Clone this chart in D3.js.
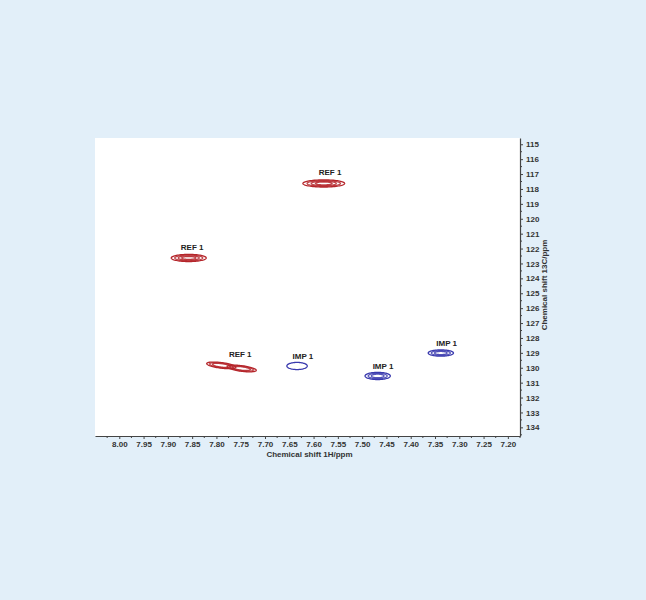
<!DOCTYPE html>
<html><head><meta charset="utf-8">
<script src="https://cdn.jsdelivr.net/npm/d3@7"></script>
<style>
html,body{margin:0;padding:0;background:#e2eff9;}
svg{display:block;}
</style></head>
<body>
<script>
// ---- data ----
const peakGroup = ["REF","REF","REF","REF","IMP","IMP","IMP"];
const peakH     = [7.857, 7.579, 7.790, 7.748, 7.634, 7.468, 7.338];   // 1H ppm
const peakC     = [122.63, 117.63, 129.84, 130.05, 129.88, 130.55, 129.01]; // 13C ppm
const peakRx    = [0.036, 0.043, 0.030, 0.030, 0.021, 0.026, 0.026];
const peakRy    = [0.24, 0.24, 0.19, 0.19, 0.24, 0.24, 0.21];
const peakSlope = [0, 0, -4, -4, 0, 0, 0];
const peakLevels= [[1,0.8,0.6,0.4],[1,0.8,0.6,0.4],[1,0.8,0.6],[1,0.8,0.6],[1],[1,0.75,0.5],[1,0.75,0.5]];

const labelText = ["REF 1","REF 1","REF 1","IMP 1","IMP 1","IMP 1"];
const labelH    = [7.850, 7.566, 7.751, 7.622, 7.457, 7.326];
const labelC    = [121.96, 116.93, 129.14, 129.28, 129.95, 128.41];

const xTicks = [8.00,7.95,7.90,7.85,7.80,7.75,7.70,7.65,7.60,7.55,7.50,7.45,7.40,7.35,7.30,7.25,7.20];
const yTicks = [115,116,117,118,119,120,121,122,123,124,125,126,127,128,129,130,131,132,133,134];
const xTitle = "Chemical shift 1H/ppm";
const yTitle = "Chemical shift 13C/ppm";

// ---- layout ----
const W = 646, H = 600;
const L = 95, R = 520, T = 138, B = 436;
const colors = {REF: "#b5262b", IMP: "#3a3aae"};
const font = "bold 8px 'Liberation Sans', Arial, sans-serif";

const svg = d3.select("body").append("svg").attr("width", W).attr("height", H);
svg.append("rect").attr("width", W).attr("height", H).attr("fill", "#e2eff9");
svg.append("rect").attr("x", L).attr("y", T).attr("width", R - L).attr("height", B - T).attr("fill", "#ffffff");

const x = d3.scaleLinear().domain([8.05, 7.175]).range([L, R]);
const y = d3.scaleLinear().domain([114.58, 134.58]).range([T, B]);

// minor ticks
const xMinor = d3.range(8.025, 7.17, -0.05);
const yMinor = d3.range(114.5, 134.6, 1).filter(v => v > 114.58);

const axisCol = "#444";
const xAxis = d3.axisBottom(x).tickValues(xTicks).tickFormat(d3.format(".2f")).tickSizeInner(3).tickSizeOuter(0).tickPadding(2);
const gx = svg.append("g").attr("transform", `translate(0,${B})`).call(xAxis);
gx.selectAll("line").attr("stroke", axisCol);
gx.select(".domain").attr("stroke", axisCol).attr("stroke-width", 1.2);
gx.selectAll("text").attr("fill", "#333").style("font", font);
gx.selectAll(".minor").data(xMinor).enter().append("line").attr("class","minor")
  .attr("x1", d => x(d)).attr("x2", d => x(d)).attr("y1", 0).attr("y2", 2).attr("stroke", axisCol);

const yAxis = d3.axisRight(y).tickValues(yTicks).tickFormat(d3.format("d")).tickSizeInner(3).tickSizeOuter(0).tickPadding(3);
const gy = svg.append("g").attr("transform", `translate(${R},0)`).call(yAxis);
gy.selectAll("line").attr("stroke", axisCol);
gy.select(".domain").attr("stroke", axisCol).attr("stroke-width", 1.2);
gy.selectAll("text").attr("fill", "#333").style("font", font);
gy.selectAll(".minor").data(yMinor).enter().append("line").attr("class","minor")
  .attr("y1", d => y(d)).attr("y2", d => y(d)).attr("x1", 0).attr("x2", 2).attr("stroke", axisCol);

svg.append("text").attr("x", (L + R) / 2 + 2).attr("y", B + 21).attr("text-anchor", "middle")
  .attr("fill", "#333").style("font", font).text(xTitle);
svg.append("text").attr("transform", `translate(${R + 27},${(T + B) / 2 - 2}) rotate(-90)`)
  .attr("text-anchor", "middle").attr("fill", "#333")
  .style("font", font).text(yTitle);

// ---- contours ----
const line = d3.line().x(d => x(d[0])).y(d => y(d[1])).curve(d3.curveLinearClosed);
const angles = d3.range(0, 2 * Math.PI, Math.PI / 40);
const gc = svg.append("g");
peakH.forEach((h, i) => {
  peakLevels[i].forEach((s, k) => {
    const rx = peakRx[i] * s, ry = peakRy[i] * s;
    const pts = angles.map(t => {
      const dx = rx * Math.cos(t);
      return [h + dx, peakC[i] + ry * Math.sin(t) + peakSlope[i] * dx];
    });
    gc.append("path").attr("d", line(pts)).attr("fill", "none")
      .attr("stroke", colors[peakGroup[i]])
      .attr("stroke-opacity", k === 0 ? 1 : 0.85)
      .attr("stroke-width", 1.3);
  });
});

// ---- labels ----
svg.append("g").selectAll("text").data(labelText).enter().append("text")
  .attr("x", (d, i) => x(labelH[i])).attr("y", (d, i) => y(labelC[i]))
  .attr("text-anchor", "middle").attr("dominant-baseline", "middle")
  .attr("fill", "#222").style("font", font)
  .text(d => d);
</script>
</body></html>
